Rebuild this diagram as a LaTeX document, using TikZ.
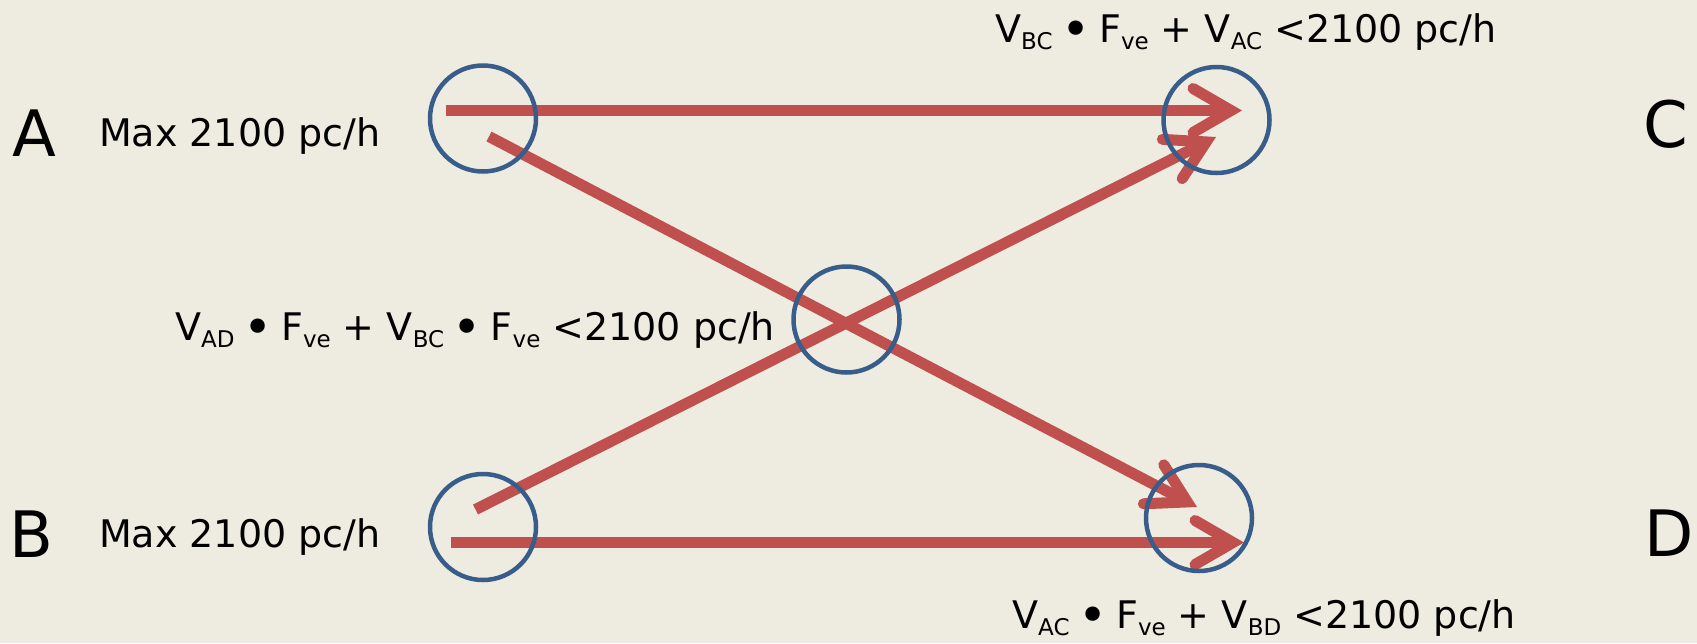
\documentclass[tikz,border=0pt]{standalone}
\usepackage{fontspec}
\setmainfont{DejaVu Sans}
\usetikzlibrary{arrows.meta}
\definecolor{bg}{HTML}{EEECE1}
\definecolor{arrowred}{HTML}{C0504D}
\definecolor{ringblue}{HTML}{385D8A}
\newcommand\mysub[1]{\raisebox{-7pt}{\fontsize{23}{23}\selectfont #1}}
\newcommand\mydot{\makebox[0.59em][c]{\raisebox{-4pt}{\scalebox{1.3}{•}}}}
\begin{document}
\begin{tikzpicture}[x=1pt,y=-1pt,
  flow/.style={draw=arrowred, line width=11pt,
    -{Straight Barb[length=38pt,width=44pt,line cap=round,line join=miter]}},
  ring/.style={circle, draw=ringblue, line width=4.5pt, minimum size=106pt, inner sep=0pt},
  lbl/.style={anchor=base west, inner sep=0pt, font=\fontsize{38}{40}\selectfont},
  big/.style={anchor=base west, inner sep=0pt, font=\fontsize{64}{70}\selectfont}]
\fill[bg] (0,0) rectangle (1697,643);
\useasboundingbox (0,0) rectangle (1697,643);

% connector end points
\coordinate (sAC) at (446,110.5);
\coordinate (eAC) at (1242,110.5);
\coordinate (sAD) at (489,136.5);
\coordinate (eAD) at (1197,507);
\coordinate (sBC) at (475.5,509.5);
\coordinate (eBC) at (1216,137);
\coordinate (sBD) at (451,542.5);
\coordinate (eBD) at (1244,542.5);

% flows
\draw[flow] (sAC) -- (eAC);
\draw[flow] (sAD) -- (eAD);
\draw[flow] (sBC) -- (eBC);
\draw[flow] (sBD) -- (eBD);

% rings
\node[ring] (cA) at (483,118.5) {};
\node[ring] (cC) at (1216.5,120) {};
\node[ring] (cM) at (846.5,319.5) {};
\node[ring] (cB) at (483,527) {};
\node[ring] (cD) at (1199,518) {};

% letters
\node[big] (lA) at (12,156) {A};
\node[big] (lB) at (9,557) {B};
\node[big] (lC) at (1643,147) {C};
\node[big] (lD) at (1644,556) {D};

% labels
\node[lbl] (mA) at (99,146) {Max 2100 pc/h};
\node[lbl] (mB) at (99,547) {Max 2100 pc/h};
\node[lbl] (fC) at (995,42) {V\mysub{BC} \mydot{} F\mysub{ve} + V\mysub{AC} <2100 pc/h};
\node[lbl] (fM) at (175,340) {V\mysub{AD} \mydot{} F\mysub{ve} + V\mysub{BC} \mydot{} F\mysub{ve} <2100 pc/h};
\node[lbl] (fD) at (1012,628) {V\mysub{AC} \mydot{} F\mysub{ve} + V\mysub{BD} <2100 pc/h};
\end{tikzpicture}
\end{document}
